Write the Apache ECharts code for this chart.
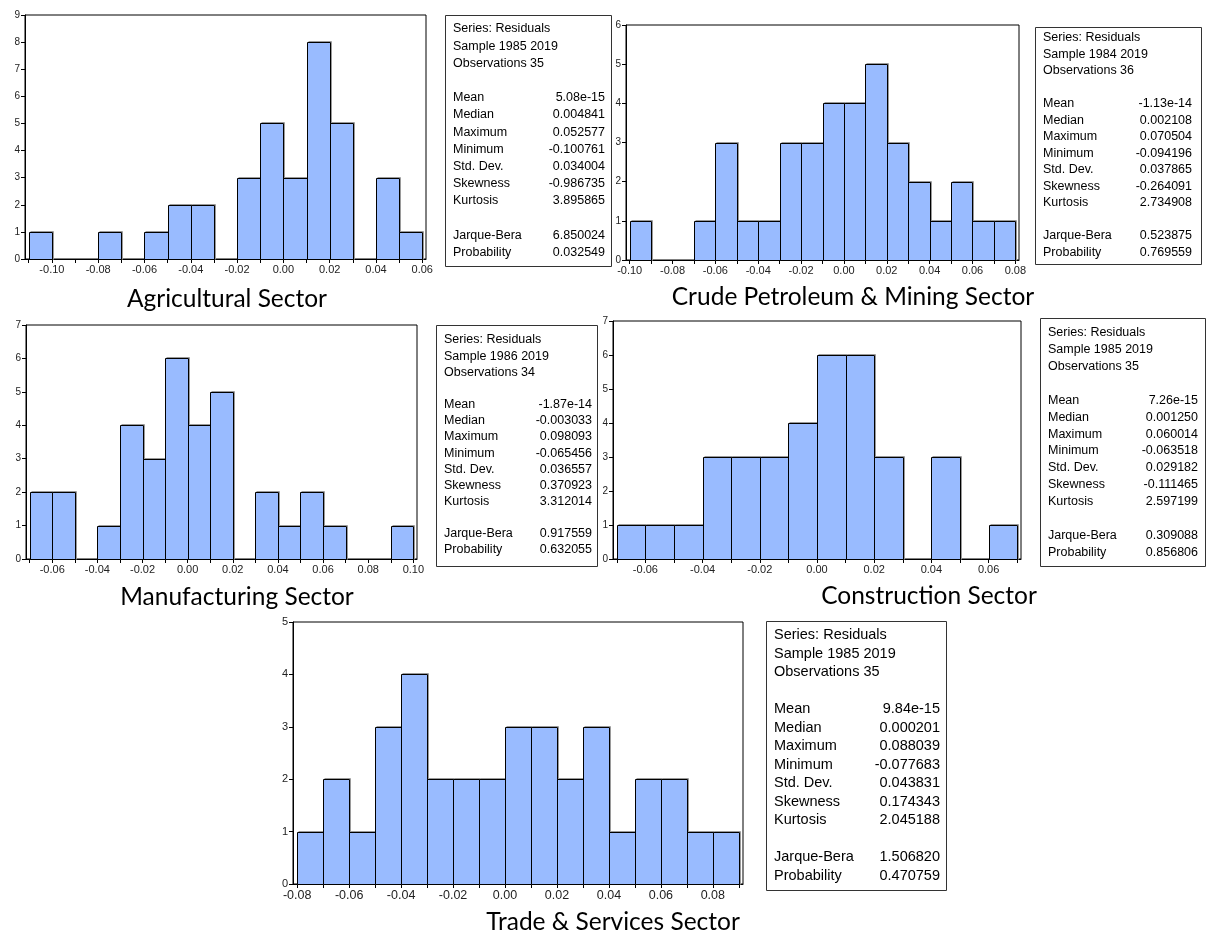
<!DOCTYPE html>
<html>
<head>
<meta charset="utf-8">
<script src="https://cdn.jsdelivr.net/npm/echarts@6/dist/echarts.min.js"></script>
<style>
html,body{margin:0;padding:0;background:#fff;}
#chart{width:1210px;height:935px;}
</style>
</head>
<body>
<div id="chart"></div>
<script>
// ---------- DATA ----------
const binWidth = 0.01;

const agriBins   = [-0.11,-0.10,-0.09,-0.08,-0.07,-0.06,-0.05,-0.04,-0.03,-0.02,-0.01,0.00,0.01,0.02,0.03,0.04,0.05];
const agriCounts = [1,0,0,1,0,1,2,2,0,3,5,3,8,5,0,3,1];
const agriXLabels = [-0.10,-0.08,-0.06,-0.04,-0.02,0.00,0.02,0.04,0.06];

const crudeBins   = [-0.10,-0.09,-0.08,-0.07,-0.06,-0.05,-0.04,-0.03,-0.02,-0.01,0.00,0.01,0.02,0.03,0.04,0.05,0.06,0.07];
const crudeCounts = [1,0,0,1,3,1,1,3,3,4,4,5,3,2,1,2,1,1];
const crudeXLabels = [-0.10,-0.08,-0.06,-0.04,-0.02,0.00,0.02,0.04,0.06,0.08];

const manufBins   = [-0.07,-0.06,-0.05,-0.04,-0.03,-0.02,-0.01,0.00,0.01,0.02,0.03,0.04,0.05,0.06,0.07,0.08,0.09];
const manufCounts = [2,2,0,1,4,3,6,4,5,0,2,1,2,1,0,0,1];
const manufXLabels = [-0.06,-0.04,-0.02,0.00,0.02,0.04,0.06,0.08,0.10];

const constrBins   = [-0.07,-0.06,-0.05,-0.04,-0.03,-0.02,-0.01,0.00,0.01,0.02,0.03,0.04,0.05,0.06];
const constrCounts = [1,1,1,3,3,3,4,6,6,3,0,3,0,1];
const constrXLabels = [-0.06,-0.04,-0.02,0.00,0.02,0.04,0.06];

const tradeBins   = [-0.08,-0.07,-0.06,-0.05,-0.04,-0.03,-0.02,-0.01,0.00,0.01,0.02,0.03,0.04,0.05,0.06,0.07,0.08];
const tradeCounts = [1,2,1,3,4,2,2,2,3,3,2,3,1,2,2,1,1];
const tradeXLabels = [-0.08,-0.06,-0.04,-0.02,0.00,0.02,0.04,0.06,0.08];

const yMaxes = [9, 6, 7, 7, 5];
const titles = ['Agricultural Sector','Crude Petroleum & Mining Sector','Manufacturing Sector','Construction Sector','Trade & Services Sector'];

const statNames = ['Mean','Median','Maximum','Minimum','Std. Dev.','Skewness','Kurtosis'];
const testNames = ['Jarque-Bera','Probability'];

const agriSample = '1985 2019',  agriObs = 35;
const agriStats  = ['5.08e-15','0.004841','0.052577','-0.100761','0.034004','-0.986735','3.895865'];
const agriTests  = ['6.850024','0.032549'];

const crudeSample = '1984 2019', crudeObs = 36;
const crudeStats  = ['-1.13e-14','0.002108','0.070504','-0.094196','0.037865','-0.264091','2.734908'];
const crudeTests  = ['0.523875','0.769559'];

const manufSample = '1986 2019', manufObs = 34;
const manufStats  = ['-1.87e-14','-0.003033','0.098093','-0.065456','0.036557','0.370923','3.312014'];
const manufTests  = ['0.917559','0.632055'];

const constrSample = '1985 2019', constrObs = 35;
const constrStats  = ['7.26e-15','0.001250','0.060014','-0.063518','0.029182','-0.111465','2.597199'];
const constrTests  = ['0.309088','0.856806'];

const tradeSample = '1985 2019', tradeObs = 35;
const tradeStats  = ['9.84e-15','0.000201','0.088039','-0.077683','0.043831','0.174343','2.045188'];
const tradeTests  = ['1.506820','0.470759'];

// ---------- LAYOUT (styles / positions) ----------
const grids = [
  {left:25,  top:15,  width:401, height:244},
  {left:626, top:25,  width:393, height:235},
  {left:26,  top:325, width:391, height:234},
  {left:613, top:321, width:408, height:238},
  {left:293, top:622, width:450, height:262}
];
const axisFont = [11, 11, 11, 11, 12.5];
const yFont = [10, 10, 10, 10, 11];
const titlePos = [[227,299],[853,297],[237,597],[929,596],[613,922]];
const boxes = [
  {left:445,  top:15,  width:166, height:251, y0:29,  step:17.2,  font:12.5, rpad:6},
  {left:1035, top:27,  width:166, height:237, y0:38,  step:16.5,  font:12.5, rpad:9},
  {left:436,  top:325, width:161, height:241, y0:340, step:16.15, font:12.5, rpad:5},
  {left:1040, top:318, width:165, height:248, y0:333, step:16.85, font:12.5, rpad:7},
  {left:766,  top:621, width:180, height:269, y0:635, step:18.5,  font:14.5, rpad:6}
];

const panels = [
  {bins:agriBins,   counts:agriCounts,   labels:agriXLabels,   sample:agriSample,   obs:agriObs,   stats:agriStats,   tests:agriTests},
  {bins:crudeBins,  counts:crudeCounts,  labels:crudeXLabels,  sample:crudeSample,  obs:crudeObs,  stats:crudeStats,  tests:crudeTests},
  {bins:manufBins,  counts:manufCounts,  labels:manufXLabels,  sample:manufSample,  obs:manufObs,  stats:manufStats,  tests:manufTests},
  {bins:constrBins, counts:constrCounts, labels:constrXLabels, sample:constrSample, obs:constrObs, stats:constrStats, tests:constrTests},
  {bins:tradeBins,  counts:tradeCounts,  labels:tradeXLabels,  sample:tradeSample,  obs:tradeObs,  stats:tradeStats,  tests:tradeTests}
];

const BAR_FILL = '#99BBFF';
const FONT_AX = '"Liberation Sans", Arial, sans-serif';
const FONT_TITLE = 'Lato, "Open Sans", sans-serif';

const option = {
  animation:false,
  backgroundColor:'#fff',
  grid:[], xAxis:[], yAxis:[], series:[], graphic:[]
};

panels.forEach((p, i) => {
  const g = grids[i];
  option.grid.push({left:g.left, top:g.top, width:g.width, height:g.height, show:true, borderColor:'#000', borderWidth:1, backgroundColor:'transparent'});
  const first = p.bins[0];
  const last = p.bins[p.bins.length-1] + binWidth;
  const pad = (last - first) * 0.0095;
  const edges = p.bins.concat([last]);
  option.xAxis.push({
    type:'value', gridIndex:i, min:first - pad, max:last + pad,
    axisLine:{show:true, onZero:false, lineStyle:{color:'#000', width:1}},
    axisTick:{show:true, inside:false, length:4, customValues:edges, lineStyle:{color:'#000'}},
    axisLabel:{show:true, customValues:p.labels, margin:5, fontSize:axisFont[i], fontFamily:FONT_AX, color:'#222',
      formatter:v => (Math.abs(v) < 1e-9 ? 0 : v).toFixed(2)},
    splitLine:{show:false}
  });
  option.yAxis.push({
    type:'value', gridIndex:i, min:0, max:yMaxes[i], interval:1,
    axisLine:{show:true, onZero:false, lineStyle:{color:'#000', width:1}},
    axisTick:{show:true, inside:false, length:4, lineStyle:{color:'#000'}},
    axisLabel:{show:true, margin:5, fontSize:yFont[i], fontFamily:FONT_AX, color:'#222'},
    splitLine:{show:false}
  });
  const data = p.bins.map((b, k) => [b, b + binWidth, p.counts[k]]);
  option.series.push({
    type:'custom', xAxisIndex:i, yAxisIndex:i,
    encode:{x:[0,1], y:2},
    data:data,
    renderItem:(params, api) => {
      const c = api.value(2);
      if (!c) return null;
      const tl = api.coord([api.value(0), c]);
      const br = api.coord([api.value(1), 0]);
      const x0 = Math.round(tl[0]) + 0.5, x1 = Math.round(br[0]) + 0.5;
      const y0 = Math.round(tl[1]) + 0.5, y1 = Math.round(br[1]) + 0.5;
      return {type:'group', children:[
        {type:'polyline', shape:{points:[[x0+1, y0-1],[x1+1, y0-1],[x1+1, y1]]},
          style:{fill:null, stroke:'#9a9a9a', lineWidth:1}},
        {type:'rect', shape:{x:x0, y:y0, width:x1-x0, height:y1-y0},
          style:{fill:BAR_FILL, stroke:'#000', lineWidth:1}}
      ]};
    }
  });

  // title
  option.graphic.push({type:'text', x:titlePos[i][0], y:titlePos[i][1],
    style:{text:titles[i], fontSize:24.5, fontFamily:FONT_TITLE, fill:'#000', align:'center', verticalAlign:'middle', textAlign:'center', textVerticalAlign:'middle'}});

  // stats box
  const b = boxes[i];
  option.graphic.push({type:'rect', shape:{x:b.left+0.5, y:b.top+0.5, width:b.width, height:b.height},
    style:{fill:'#fff', stroke:'#333', lineWidth:1}});
  const lx = b.left + 8, rx = b.left + b.width - b.rpad;
  const rows = [];
  rows.push(['Series: Residuals', null]);
  rows.push(['Sample ' + p.sample, null]);
  rows.push(['Observations ' + p.obs, null]);
  rows.push(null);
  statNames.forEach((n, k) => rows.push([n, p.stats[k]]));
  rows.push(null);
  testNames.forEach((n, k) => rows.push([n, p.tests[k]]));
  rows.forEach((r, k) => {
    if (!r) return;
    const y = b.y0 + k * b.step;
    option.graphic.push({type:'text', x:lx, y:y,
      style:{text:r[0], fontSize:b.font, fontFamily:FONT_AX, fill:'#000', align:'left', verticalAlign:'middle', textAlign:'left', textVerticalAlign:'middle'}});
    if (r[1] !== null) {
      option.graphic.push({type:'text', x:rx, y:y,
        style:{text:r[1], fontSize:b.font, fontFamily:FONT_AX, fill:'#000', align:'right', verticalAlign:'middle', textAlign:'right', textVerticalAlign:'middle'}});
    }
  });
});

const chart = echarts.init(document.getElementById('chart'), null, {renderer:'canvas'});
chart.setOption(option);
</script>
</body>
</html>
